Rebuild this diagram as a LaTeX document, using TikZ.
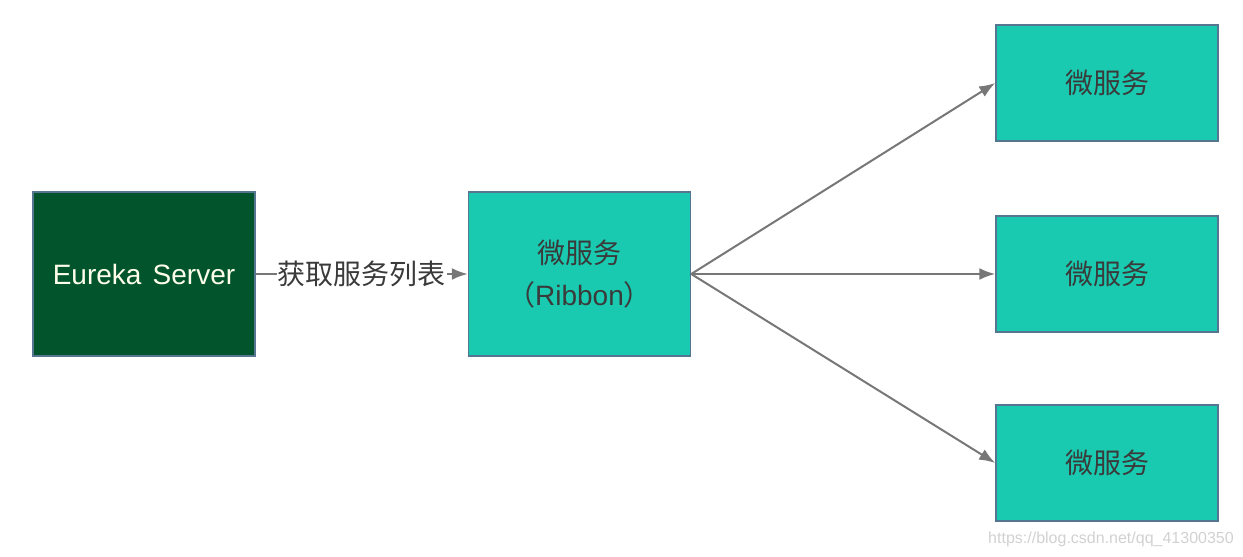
\documentclass[tikz,border=0pt]{standalone}
\usepackage{fontspec}
\setmainfont{Liberation Sans}
\newfontfamily\cjk{Noto Sans CJK SC}
\usetikzlibrary{arrows.meta}
\definecolor{darkg}{HTML}{02542D}
\definecolor{teal2}{HTML}{19CAB1}
\definecolor{bord}{HTML}{557590}
\definecolor{linec}{HTML}{777777}
\definecolor{txt}{HTML}{3A3A3A}
\begin{document}
\begin{tikzpicture}[x=1pt,y=-1pt,
  box/.style={draw=bord,line width=1.5pt,minimum width=222pt,minimum height=164pt,inner sep=0pt,font=\fontsize{28}{42}\selectfont\cjk,align=center},
  svc/.style={box,fill=teal2,text=txt},
  svcs/.style={svc,minimum height=116pt},
  conn/.style={draw=linec,line width=2pt,-{Latex[length=16pt,width=12pt]}}]
\useasboundingbox (0,0) rectangle (1243,557);
\node[box,fill=darkg,text=white!92!yellow,font=\fontsize{28}{34}\selectfont] (eur) at (144,274) {Eureka\hspace{0.4em}Server};
\node[box,fill=teal2,text=txt] (rib) at (579.5,274) {微服务\\（{\rmfamily Ribbon}）};
\node[svcs] (s1) at (1107,83) {微服务};
\node[svcs] (s2) at (1107,274) {微服务};
\node[svcs] (s3) at (1107,463) {微服务};
\draw[conn] (eur.east) -- node[fill=white,inner sep=1pt,text=txt,font=\fontsize{28}{34}\selectfont\cjk]{获取服务列表} (rib.west);
\draw[conn] (rib.east) -- (s1.west);
\draw[conn] (rib.east) -- (s2.west);
\draw[conn] (rib.east) -- (s3.west);
\node[text=black!18,font=\fontsize{16}{18}\selectfont,inner sep=0pt] (wm) at (1111,539) {https://blog.csdn.net/qq\_41300350};
\end{tikzpicture}
\end{document}
